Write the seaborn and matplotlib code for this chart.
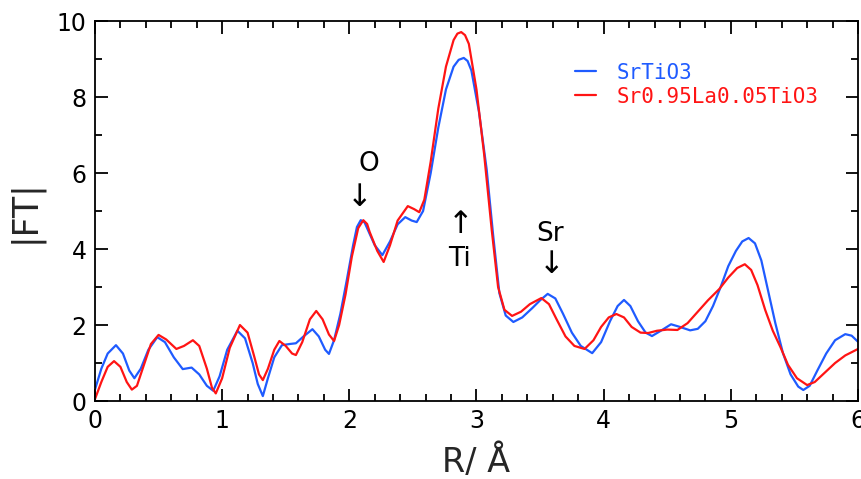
import numpy as np
import pandas as pd
import matplotlib
matplotlib.use("Agg")
import matplotlib.pyplot as plt
import seaborn as sns
from matplotlib.ticker import MultipleLocator

# |FT| vs R
r_srtio3 = [0.00, 0.05, 0.10, 0.165, 0.22, 0.27, 0.31, 0.36, 0.42, 0.49, 0.55, 0.62,
            0.69, 0.76, 0.82, 0.88, 0.93, 0.98, 1.04, 1.12, 1.18, 1.24, 1.28, 1.32,
            1.36, 1.41, 1.47, 1.53, 1.58, 1.64, 1.71, 1.76, 1.81, 1.84, 1.88, 1.93,
            1.98, 2.03, 2.06, 2.09, 2.12, 2.14, 2.20, 2.26, 2.32, 2.38, 2.44, 2.49,
            2.53, 2.58, 2.64, 2.70, 2.76, 2.82, 2.86, 2.90, 2.93, 2.96, 3.02, 3.08,
            3.13, 3.18, 3.23, 3.29, 3.36, 3.44, 3.50, 3.56, 3.62, 3.68, 3.75, 3.82,
            3.91, 3.98, 4.05, 4.11, 4.16, 4.21, 4.27, 4.33, 4.38, 4.45, 4.53, 4.60,
            4.68, 4.74, 4.80, 4.86, 4.92, 4.98, 5.04, 5.09, 5.14, 5.19, 5.24, 5.29,
            5.35, 5.41, 5.47, 5.53, 5.57, 5.62, 5.68, 5.75, 5.82, 5.90, 5.95, 6.00]
ft_srtio3 = [0.30, 0.85, 1.25, 1.47, 1.25, 0.80, 0.60, 0.85, 1.35, 1.68, 1.55, 1.15,
             0.84, 0.88, 0.70, 0.40, 0.27, 0.65, 1.35, 1.85, 1.65, 1.00, 0.45, 0.13,
             0.60, 1.15, 1.47, 1.50, 1.52, 1.70, 1.89, 1.70, 1.35, 1.24, 1.60, 2.30,
             3.18, 4.10, 4.58, 4.76, 4.70, 4.55, 4.10, 3.84, 4.20, 4.65, 4.84, 4.75,
             4.71, 5.00, 6.00, 7.20, 8.20, 8.80, 8.98, 9.03, 8.95, 8.70, 7.60, 6.10,
             4.40, 2.84, 2.25, 2.08, 2.20, 2.45, 2.65, 2.82, 2.70, 2.30, 1.80, 1.45,
             1.26, 1.55, 2.10, 2.50, 2.66, 2.50, 2.10, 1.80, 1.71, 1.85, 2.02, 1.95,
             1.86, 1.90, 2.10, 2.50, 3.00, 3.55, 3.95, 4.20, 4.29, 4.15, 3.70, 2.95,
             2.05, 1.26, 0.70, 0.38, 0.29, 0.40, 0.80, 1.25, 1.60, 1.76, 1.72, 1.56]

r_la = [0.00, 0.05, 0.10, 0.15, 0.20, 0.25, 0.29, 0.33, 0.38, 0.44, 0.50, 0.56,
        0.64, 0.70, 0.77, 0.82, 0.88, 0.92, 0.95, 1.00, 1.06, 1.14, 1.20, 1.25,
        1.29, 1.32, 1.36, 1.41, 1.45, 1.50, 1.55, 1.58, 1.63, 1.69, 1.74, 1.79,
        1.84, 1.88, 1.92, 1.97, 2.02, 2.07, 2.11, 2.14, 2.16, 2.22, 2.27, 2.32,
        2.38, 2.46, 2.51, 2.55, 2.59, 2.64, 2.70, 2.76, 2.82, 2.85, 2.88, 2.91,
        2.94, 3.00, 3.06, 3.12, 3.17, 3.22, 3.28, 3.35, 3.42, 3.51, 3.57, 3.63,
        3.70, 3.77, 3.85, 3.92, 3.98, 4.04, 4.10, 4.16, 4.22, 4.29, 4.35, 4.42,
        4.50, 4.58, 4.66, 4.74, 4.82, 4.91, 4.98, 5.05, 5.11, 5.16, 5.21, 5.27,
        5.33, 5.39, 5.45, 5.52, 5.60, 5.66, 5.74, 5.82, 5.90, 6.00]
ft_la = [0.05, 0.50, 0.90, 1.05, 0.90, 0.50, 0.30, 0.40, 0.90, 1.50, 1.74, 1.62,
         1.37, 1.45, 1.60, 1.45, 0.85, 0.35, 0.20, 0.60, 1.40, 2.00, 1.80, 1.20,
         0.70, 0.55, 0.85, 1.35, 1.58, 1.45, 1.25, 1.21, 1.55, 2.15, 2.37, 2.15,
         1.75, 1.58, 2.00, 2.80, 3.80, 4.55, 4.76, 4.66, 4.45, 3.95, 3.66, 4.10,
         4.75, 5.13, 5.05, 4.97, 5.30, 6.30, 7.70, 8.80, 9.50, 9.67, 9.71, 9.63,
         9.40, 8.20, 6.50, 4.50, 3.00, 2.40, 2.24, 2.35, 2.55, 2.71, 2.55, 2.15,
         1.70, 1.45, 1.37, 1.60, 1.95, 2.20, 2.29, 2.20, 1.95, 1.80, 1.79, 1.85,
         1.88, 1.87, 2.05, 2.35, 2.65, 2.95, 3.25, 3.50, 3.60, 3.45, 3.05, 2.40,
         1.85, 1.42, 0.95, 0.60, 0.42, 0.50, 0.75, 1.00, 1.20, 1.37]

labels = ["SrTiO3", "Sr0.95La0.05TiO3"]
colors = ["#1f5bff", "#ff1414"]

df = pd.concat([
    pd.DataFrame({"R": r_srtio3, "FT": ft_srtio3, "sample": labels[0]}),
    pd.DataFrame({"R": r_la, "FT": ft_la, "sample": labels[1]}),
])

sns.set_style("ticks")
plt.rcParams["font.family"] = ["DejaVu Sans"]

fig = plt.figure(figsize=(8.61, 4.79), dpi=100)
ax = fig.add_axes([0.1103, 0.1628, 0.8862, 0.7932])

sns.lineplot(data=df, x="R", y="FT", hue="sample", palette=dict(zip(labels, colors)),
             sort=False, estimator=None, linewidth=1.6, ax=ax)

ax.set_xlim(0, 6)
ax.set_ylim(0, 10)
ax.xaxis.set_major_locator(MultipleLocator(1))
ax.xaxis.set_minor_locator(MultipleLocator(0.2))
ax.yaxis.set_major_locator(MultipleLocator(2))
ax.yaxis.set_minor_locator(MultipleLocator(1))
ax.tick_params(which="both", direction="in", top=True, right=True, width=1.3,
               colors="black", labelsize=17, pad=6)
ax.tick_params(which="major", length=9)
ax.tick_params(which="minor", length=5)
for s in ax.spines.values():
    s.set_linewidth(1.3)
    s.set_color("black")

ax.set_xlabel("R/ Å", fontsize=24, labelpad=8)
ax.set_ylabel("|FT|", fontsize=25, labelpad=10)

# peak labels
ann = dict(ha="center", va="center", color="black")
ax.text(2.15, 6.25, "O", fontsize=19, **ann)
ax.text(2.08, 5.35, "↓", fontsize=22, **ann)
ax.text(2.875, 4.65, "↑", fontsize=22, **ann)
ax.text(2.87, 3.75, "Ti", fontsize=19, **ann)
ax.text(3.58, 4.4, "Sr", fontsize=19, **ann)
ax.text(3.59, 3.6, "↓", fontsize=22, **ann)

leg = ax.legend(loc="upper left", bbox_to_anchor=(0.605, 0.94), frameon=False,
                handlelength=1.0, handletextpad=1.0, labelspacing=0.2,
                prop={"family": "DejaVu Sans Mono", "size": 15})
for txt, c in zip(leg.get_texts(), colors):
    txt.set_color(c)

fig.savefig("out.png", dpi=100)
